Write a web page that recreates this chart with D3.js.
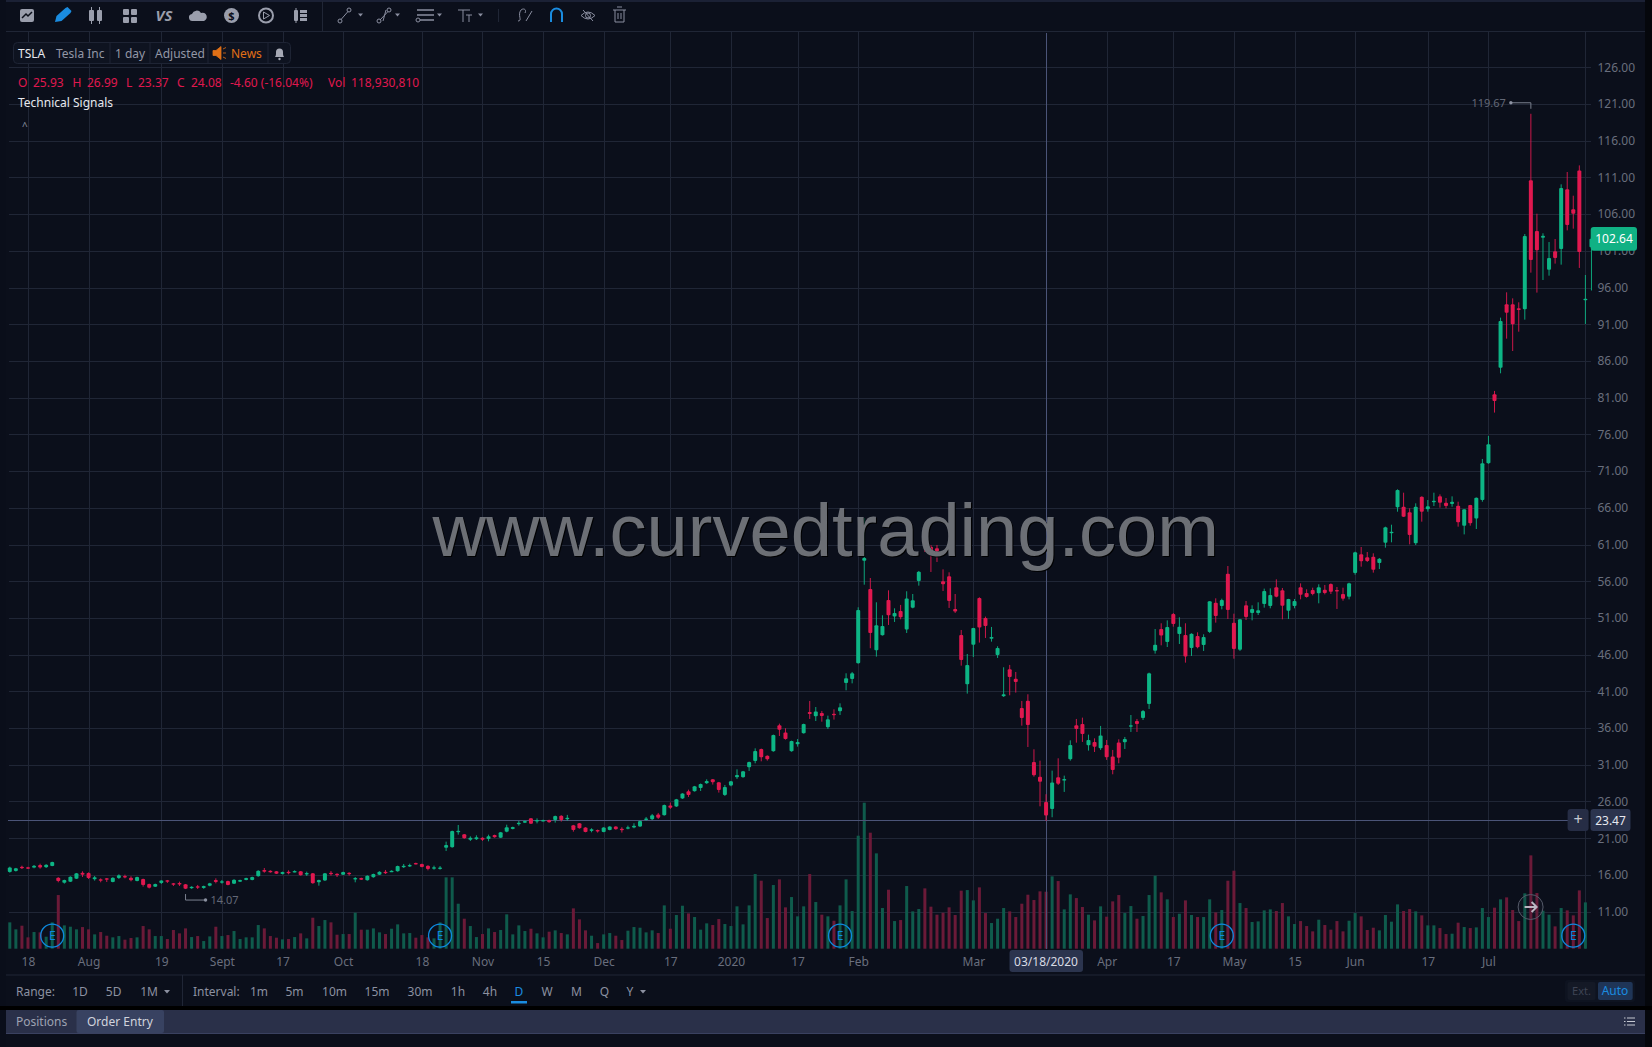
<!DOCTYPE html>
<html>
<head>
<meta charset="utf-8">
<title>TSLA</title>
<script src="https://cdn.jsdelivr.net/npm/d3@7"></script>
<style>
body { margin: 0; background: #0a0e1a; overflow: hidden; }
svg { display: block; font-family: "Noto Sans", sans-serif; }
.grid line { stroke: #202636; stroke-width: 1; shape-rendering: crispEdges; }
.grid path { display: none; }
.axis path, .axis line { display: none; }
.axis text { fill: #696e7d; font-size: 12px; font-family: "Noto Sans", sans-serif; }
.txt { fill: #8c91a1; font-size: 12px; }
</style>
</head>
<body>
<svg width="1652" height="1047"></svg>
<script>
const opens = [
  16.40,16.53,17.12,17.03,16.99,17.35,17.03,17.21,15.62,14.94,
  15.08,15.49,16.30,16.26,15.40,15.40,15.53,15.03,15.58,15.85,
  15.62,15.17,15.44,14.76,14.40,14.90,15.26,14.85,14.90,14.72,
  14.22,14.44,14.22,14.53,15.31,14.99,15.17,14.81,15.08,15.31,
  15.31,15.81,16.67,16.58,16.49,16.12,16.44,16.40,16.49,16.12,
  16.21,14.99,15.22,16.30,16.17,16.03,16.30,15.49,15.58,15.26,
  15.67,16.03,16.44,16.44,16.49,17.12,17.21,17.62,17.49,17.26,
  16.94,16.89,19.71,19.75,21.80,21.52,20.80,20.84,21.07,20.89,
  21.43,21.07,21.89,22.25,22.93,23.11,23.70,23.29,23.34,23.48,
  23.48,24.07,23.67,22.76,23.03,22.44,21.99,22.12,21.85,22.12,
  22.58,22.30,22.30,22.44,22.58,23.48,23.58,24.21,24.12,25.44,
  25.30,26.39,27.39,27.39,27.84,28.48,29.02,28.61,26.89,28.16,
  29.29,29.29,30.66,31.52,33.15,32.24,32.83,36.37,35.38,32.83,
  33.79,35.29,38.19,37.60,38.05,36.10,37.96,38.28,42.14,42.68,
  44.82,58.80,54.94,46.59,48.64,53.45,51.18,51.95,49.41,52.40,
  56.03,61.62,60.71,60.48,55.99,56.67,52.22,48.68,41.96,47.36,
  53.72,50.99,48.18,45.96,40.33,44.00,42.73,38.73,39.73,31.38,
  29.38,25.93,24.98,29.29,28.84,31.75,36.37,36.56,33.65,34.11,
  33.24,33.70,32.11,34.02,34.06,36.29,36.97,37.38,39.28,46.54,
  49.49,47.72,51.54,48.81,48.68,46.91,48.54,47.32,49.09,53.08,
  52.63,57.03,50.36,46.68,52.72,51.67,51.67,52.90,52.63,55.17,
  54.76,51.99,52.63,55.17,54.40,54.80,54.35,54.85,55.62,54.80,
  54.26,53.90,57.12,59.66,59.25,59.34,58.48,61.25,62.66,66.06,
  66.15,65.38,61.16,67.52,65.79,66.79,67.56,66.70,66.52,66.29,
  63.57,66.38,64.56,67.06,72.07,81.46,85.09,93.72,93.72,93.17,
  93.04,110.60,103.70,102.80,98.44,100.93,101.25,109.38,106.65,111.96,94.40,101.50
];
const highs = [
  17.12,16.95,17.26,17.10,17.35,17.53,17.45,17.80,15.68,15.35,
  15.80,16.26,16.49,16.35,15.85,15.53,15.58,15.67,16.08,16.03,
  15.81,15.76,15.49,14.81,14.81,15.26,15.31,14.90,15.08,14.76,
  14.45,14.63,14.54,14.92,15.53,15.31,15.22,15.40,15.35,15.62,
  15.76,16.62,16.94,16.62,16.53,16.44,16.62,16.62,16.53,16.44,
  16.26,15.35,16.26,16.53,16.21,16.44,16.35,15.71,15.62,15.94,
  16.17,16.49,16.67,16.62,17.26,17.49,17.53,17.67,17.53,17.30,
  17.26,17.21,20.53,22.03,22.80,21.57,21.25,21.39,21.12,21.48,
  21.48,21.85,22.84,22.57,23.34,23.40,23.75,23.70,23.52,23.52,
  24.08,24.12,24.17,22.81,23.07,22.49,22.35,22.17,22.49,22.62,
  22.62,22.49,22.71,23.03,23.40,23.89,24.30,24.44,25.58,25.85,
  26.35,27.12,27.61,28.12,28.44,29.02,29.06,28.66,28.25,28.80,
  30.38,30.16,31.43,33.24,33.20,32.28,35.11,36.60,35.97,34.28,
  34.51,36.60,39.69,38.87,38.33,37.69,38.55,39.37,43.46,43.64,
  52.45,64.60,56.44,53.13,51.36,54.76,52.31,52.77,54.63,54.26,
  57.40,63.07,60.94,60.94,57.62,57.21,54.26,49.36,46.09,49.65,
  53.81,51.18,49.77,47.14,44.28,44.60,43.64,39.69,40.60,33.11,
  31.56,26.99,30.20,31.88,29.52,34.33,37.24,37.42,35.10,34.60,
  36.29,34.38,33.02,34.47,34.79,37.78,37.24,38.46,43.55,49.49,
  50.27,50.67,51.67,51.08,50.27,48.90,49.04,48.77,53.28,53.67,
  53.62,58.07,51.58,50.84,53.31,52.72,53.13,54.99,55.03,56.26,
  55.08,53.60,53.58,55.71,54.90,55.12,55.58,55.49,55.71,55.21,
  55.12,55.80,60.02,60.66,59.98,59.80,59.16,63.43,63.70,68.52,
  68.06,65.93,66.61,67.56,67.06,68.06,67.83,67.33,67.56,66.83,
  65.80,66.40,67.40,72.65,75.79,81.92,91.90,95.35,94.53,93.99,
  103.29,119.67,106.06,103.39,102.20,102.61,110.06,111.74,108.51,112.64,97.71,102.90
];
const lows = [
  16.30,16.45,16.80,16.80,16.90,16.85,16.95,17.18,14.99,14.81,
  15.03,15.45,15.71,15.44,15.22,14.99,15.03,14.99,15.44,15.53,
  15.12,15.12,14.40,14.15,14.35,14.76,14.90,14.49,14.49,14.07,
  14.10,14.08,14.10,14.45,14.85,14.81,14.58,14.76,15.03,15.26,
  15.26,15.76,16.30,16.30,16.12,16.06,16.08,16.35,15.90,15.85,
  14.80,14.53,15.17,15.90,15.71,15.98,15.90,14.99,15.31,15.22,
  15.62,15.98,16.12,16.40,16.44,16.94,17.08,17.44,17.03,16.62,
  16.71,16.71,19.26,19.71,21.48,20.93,20.62,20.75,20.62,20.57,
  21.07,21.03,21.80,22.20,22.70,23.06,22.93,23.02,23.30,23.11,
  23.12,23.26,23.39,21.89,22.30,21.80,21.80,21.76,21.80,22.07,
  22.17,21.76,22.21,22.35,22.53,23.39,23.48,23.62,24.08,24.98,
  25.26,26.35,26.62,27.35,27.43,28.39,28.30,27.21,26.75,28.07,
  29.07,29.25,30.16,31.20,31.47,31.56,32.78,34.92,34.42,32.78,
  33.47,35.25,37.24,36.96,36.87,35.88,37.15,37.78,41.14,42.09,
  44.78,55.53,46.87,45.73,48.60,50.04,50.45,50.81,48.95,52.31,
  55.40,59.98,57.26,58.62,54.67,52.36,51.68,44.50,40.69,45.68,
  47.64,48.27,47.77,45.55,40.24,40.46,40.83,36.33,33.42,29.38,
  25.34,23.37,23.85,28.25,27.30,31.56,34.01,34.11,32.93,32.74,
  33.02,31.66,29.70,31.20,33.15,35.47,35.47,37.10,38.60,46.14,
  47.27,47.04,49.81,47.45,44.91,45.82,46.86,46.50,48.95,50.36,
  52.17,50.86,45.45,46.50,50.72,50.67,51.40,52.40,52.31,53.81,
  50.81,50.86,52.31,53.53,53.76,54.08,52.99,54.21,54.26,52.22,
  53.35,53.53,56.89,57.98,58.62,57.17,57.66,60.57,61.30,65.47,
  64.75,61.02,60.93,64.11,65.47,66.24,66.02,65.93,66.15,63.43,
  62.38,63.57,63.11,66.83,72.00,78.97,84.32,89.04,87.36,89.99,
  91.63,98.03,95.31,97.03,97.62,99.26,99.12,103.79,104.02,98.67,91.04,95.60
];
const closes = [
  16.99,16.89,16.99,16.85,17.26,16.99,17.39,17.76,15.17,15.31,
  15.76,16.21,16.03,15.58,15.67,15.22,15.40,15.62,15.94,15.67,
  15.26,15.71,14.63,14.26,14.76,15.22,15.08,14.67,14.72,14.10,
  14.40,14.26,14.49,14.85,15.03,15.12,14.63,15.35,15.31,15.58,
  15.71,16.58,16.44,16.35,16.17,16.40,16.26,16.53,15.94,16.26,
  14.85,15.31,16.21,16.12,16.03,16.40,16.17,15.58,15.35,15.90,
  16.12,16.44,16.30,16.58,17.21,17.26,17.35,17.49,17.08,16.80,
  17.03,16.99,20.07,21.98,22.02,20.98,21.07,21.12,20.80,21.25,
  21.12,21.80,22.48,22.52,23.11,23.34,22.98,23.48,23.48,23.16,
  24.03,23.48,23.80,22.12,22.35,21.85,22.21,21.94,22.44,22.58,
  22.21,22.08,22.49,22.71,23.35,23.67,24.12,23.80,25.53,25.16,
  26.30,27.07,26.89,28.07,28.39,28.79,28.61,27.57,27.98,28.75,
  29.61,30.11,31.38,32.88,32.02,31.75,35.06,35.78,34.51,34.24,
  34.11,36.56,37.92,38.24,37.65,37.19,37.78,38.83,42.77,43.46,
  52.08,59.17,48.95,49.99,49.91,51.36,51.68,51.09,53.63,53.40,
  57.30,61.07,59.89,60.07,55.58,53.31,51.86,45.28,44.60,49.63,
  49.68,49.91,48.41,46.91,40.60,42.96,42.28,37.37,36.42,29.57,
  28.70,24.08,28.57,28.43,29.07,33.70,35.88,35.19,34.38,33.47,
  34.97,32.02,30.29,31.97,34.52,36.38,36.56,38.33,43.46,47.36,
  48.59,49.77,50.17,49.81,45.73,48.86,47.00,48.40,53.26,51.26,
  53.44,52.08,46.77,50.81,51.13,52.22,52.04,54.67,54.12,53.90,
  52.67,53.58,53.31,54.17,53.85,54.26,55.17,54.40,54.58,54.67,
  53.62,55.71,59.93,58.71,58.75,57.57,59.07,63.34,62.75,68.42,
  64.79,62.29,66.15,65.47,66.20,66.97,66.70,66.24,66.83,64.02,
  65.79,63.88,67.38,72.06,74.65,80.55,91.45,92.58,91.00,92.95,
  103.02,99.75,101.07,103.07,100.03,100.03,109.56,104.52,106.06,100.84,94.49,102.64
];
// volume in millions of shares, the last (forming) bar has none
const volumes = [
  55.0,40.4,48.0,23.7,34.8,34.1,25.0,55.0,112.0,48.7,
  45.9,40.4,45.2,40.4,29.9,34.8,27.1,23.7,26.4,18.8,
  22.3,23.7,47.3,40.4,26.4,26.4,20.2,39.0,32.0,42.4,
  24.3,26.4,16.0,25.7,45.9,26.4,28.5,36.9,20.2,23.7,
  23.7,49.4,42.4,26.4,23.0,19.5,20.2,24.3,32.0,21.6,
  64.7,47.3,59.8,55.0,29.2,30.6,30.6,75.1,39.7,39.7,
  42.4,34.1,30.6,41.7,50.8,32.0,32.7,23.0,28.5,23.7,
  21.6,55.0,148.9,148.9,93.9,62.6,47.3,24.3,30.6,42.4,
  34.8,39.0,71.7,29.9,48.7,36.9,41.7,32.0,23.7,35.5,
  38.3,32.7,29.9,84.2,61.2,38.3,27.1,11.8,29.9,32.7,
  27.1,18.1,37.6,45.2,43.8,34.1,38.3,32.7,90.4,41.7,
  70.3,89.7,73.7,66.1,39.7,52.9,49.4,61.9,51.5,47.3,
  88.4,50.8,90.4,155.8,141.9,64.0,132.9,144.7,86.3,107.8,
  67.5,88.4,155.8,97.4,71.0,67.5,58.4,90.4,144.7,78.6,
  235.8,304.7,242.1,199.0,84.9,123.1,57.7,59.8,130.8,77.9,
  82.8,125.9,87.7,71.0,75.1,86.3,70.3,121.1,122.4,100.9,
  128.0,74.4,53.6,62.6,84.9,77.9,66.1,93.9,112.7,101.6,
  119.7,118.93,151.0,141.2,82.1,113.4,105.7,87.0,71.0,59.1,
  88.4,66.8,98.8,112.0,74.4,89.0,62.6,68.2,112.0,152.4,
  117.6,103.0,66.1,73.0,100.9,70.3,66.1,66.1,103.0,75.8,
  80.7,141.9,162.8,95.3,84.9,55.7,57.0,80.0,82.1,78.6,
  95.3,67.5,51.5,57.7,47.3,36.2,60.5,49.4,39.7,57.7,
  36.2,58.4,74.4,67.5,39.0,43.8,38.3,70.3,56.4,92.5,
  78.6,82.8,77.9,69.6,48.7,48.7,43.1,30.6,31.3,54.3,
  45.2,43.1,44.5,84.9,66.1,85.6,103.0,107.1,80.7,57.7,
  115.5,194.8,116.2,79.3,71.0,46.6,84.9,80.0,69.6,121.7,96.7,0
];
const priceTicks = [11,16,21,26,31,36,41,46,51,56,61,66,71,76,81,86,91,96,101,106,111,116,121,126];
const dateLabels = ['18','Aug','19','Sept','17','Oct','18','Nov','15','Dec','17','2020','17','Feb','Mar','Apr','17','May','15','Jun','17','Jul'];
const dateBars = [3,13,25,35,45,55,68,78,88,98,109,119,130,140,159,181,192,202,212,222,234,244];
const extraGridBars = [260];
const earningsBars = [7,71,137,200,258];
const selectedBar = 171;
const selectedDate = '03/18/2020';
const crossPrice = 23.47;
const lastPrice = 102.64;
const highestBar = 251;
const lowestBar = 29;

const rangeItems = ['1D','5D','1M'];
const intervalItems = ['1m','5m','10m','15m','30m','1h','4h','D','W','M','Q','Y'];

const UP = '#0db585', DOWN = '#e0184f', UP_VOL = '#0f5b4c', DOWN_VOL = '#6b1a38';

const svg = d3.select('svg');
const x = d3.scaleLinear().domain([0, 260]).range([9.8, 1585.4]);
const y = d3.scaleLinear().domain([11, 126]).range([911.6, 67.3]);
const v = d3.scaleLinear().domain([0, 304.7]).range([948.7, 802.7]);

const bars = opens.map((o, i) => ({ i, o, h: highs[i], l: lows[i], c: closes[i], vol: volumes[i], up: closes[i] >= o }));

// backgrounds
svg.append('rect').attr('x', 6).attr('width', 1639).attr('height', 1047).attr('fill', '#0b0f1b');
svg.append('rect').attr('x', 1645).attr('width', 7).attr('height', 1047).attr('fill', '#05070c');

// grid, made with the axes
const plot = svg.append('g');
plot.append('g').attr('class', 'grid').attr('transform', 'translate(1590.5,0)')
  .call(d3.axisLeft(y).tickValues(priceTicks).tickSize(1582).tickFormat(''));
plot.append('g').attr('class', 'grid').attr('transform', 'translate(0,948.7)')
  .call(d3.axisTop(x).tickValues(dateBars.concat(extraGridBars)).tickSize(917).tickFormat(''));

// volume
plot.selectAll('.vol').data(bars.filter(d => d.vol > 0)).enter().append('rect')
  .attr('class', 'vol')
  .attr('x', d => x(d.i) - 1.5)
  .attr('y', d => v(d.vol))
  .attr('width', 3)
  .attr('height', d => v(0) - v(d.vol))
  .attr('fill', d => d.up ? UP_VOL : DOWN_VOL);

// crosshair
plot.append('line').attr('x1', x(selectedBar)).attr('x2', x(selectedBar)).attr('y1', 33).attr('y2', 948.7)
  .attr('stroke', '#4b5478').attr('stroke-width', 1).style('shape-rendering', 'crispEdges');
plot.append('line').attr('x1', 8).attr('x2', 1568).attr('y1', y(crossPrice)).attr('y2', y(crossPrice))
  .attr('stroke', '#4b5478').attr('stroke-width', 1).style('shape-rendering', 'crispEdges');

// candles
plot.selectAll('.wick').data(bars).enter().append('line')
  .attr('class', 'wick')
  .attr('x1', d => x(d.i)).attr('x2', d => x(d.i))
  .attr('y1', d => y(d.h)).attr('y2', d => y(d.l))
  .attr('stroke', d => d.up ? UP : DOWN)
  .attr('stroke-opacity', 0.9)
  .attr('stroke-width', 1);
plot.selectAll('.body').data(bars).enter().append('rect')
  .attr('class', 'body')
  .attr('x', d => x(d.i) - 2)
  .attr('y', d => y(Math.max(d.o, d.c)))
  .attr('width', 4)
  .attr('height', d => Math.max(1.5, Math.abs(y(d.o) - y(d.c))))
  .attr('rx', 1)
  .attr('fill', d => d.up ? UP : DOWN);

// high and low flags
const flag = svg.append('g').attr('fill', 'none').attr('stroke', '#7b808f');
flag.append('path').attr('d', `M${x(highestBar)},${y(bars[highestBar].h) - 5}V${y(bars[highestBar].h) - 11}H${x(highestBar) - 20}`);
flag.append('path').attr('d', `M${x(lowestBar)},${y(bars[lowestBar].l) + 5}V${y(bars[lowestBar].l) + 11}H${x(lowestBar) + 20}`);
svg.append('circle').attr('cx', x(highestBar) - 20).attr('cy', y(bars[highestBar].h) - 11).attr('r', 1.7).attr('fill', '#8c91a1');
svg.append('circle').attr('cx', x(lowestBar) + 20).attr('cy', y(bars[lowestBar].l) + 11).attr('r', 1.7).attr('fill', '#8c91a1');
svg.append('text').attr('class', 'txt').attr('x', x(highestBar) - 25).attr('y', y(bars[highestBar].h) - 7)
  .attr('text-anchor', 'end').style('font-size', '11px').style('fill', '#636877').text(bars[highestBar].h.toFixed(2));
svg.append('text').attr('class', 'txt').attr('x', x(lowestBar) + 25).attr('y', y(bars[lowestBar].l) + 15)
  .style('font-size', '11px').style('fill', '#636877').text(bars[lowestBar].l.toFixed(2));

// earnings markers
const earn = svg.selectAll('.earn').data(earningsBars).enter().append('g').attr('class', 'earn')
  .attr('transform', d => `translate(${x(d)},935.7)`);
earn.append('circle').attr('r', 11.5).attr('fill', 'none').attr('stroke', '#0d8ae0').attr('stroke-width', 1.3);
earn.append('text').attr('text-anchor', 'middle').attr('y', 4.5).attr('fill', '#0d8ae0').style('font-size', '12px').text('E');

// replay arrow
const arrow = svg.append('g').attr('transform', 'translate(1530.6,907)');
arrow.append('circle').attr('r', 12.5).attr('fill', '#2b3040').attr('fill-opacity', 0.15).attr('stroke', '#565b6a');
arrow.append('path').attr('d', 'M-6,0H6M1,-5L6,0L1,5').attr('fill', 'none').attr('stroke', '#bdb6c2').attr('stroke-width', 2);

// watermark
svg.append('text').attr('x', 432.5).attr('y', 556)
  .attr('font-family', '"Liberation Sans", Arial, sans-serif').attr('font-size', 74.1)
  .attr('fill', '#74777e').attr('fill-opacity', 0.93)
  .style('filter', 'drop-shadow(1px 1px 0 #000)')
  .text('www.curvedtrading.com');

// axes
svg.append('g').attr('class', 'axis').attr('transform', 'translate(1584.5,0)')
  .call(d3.axisRight(y).tickValues(priceTicks).tickSize(10).tickFormat(d => d.toFixed(2)));
svg.append('g').attr('class', 'axis').attr('transform', 'translate(0,954)')
  .call(d3.axisBottom(x).tickValues(dateBars).tickSize(0).tickPadding(3).tickFormat((d, i) => dateLabels[i]));

function box(x0, y0, w, h, fill, rx) {
  return svg.append('rect').attr('x', x0).attr('y', y0).attr('width', w).attr('height', h).attr('fill', fill).attr('rx', rx || 0);
}
function label(x0, y0, s, fill, anchor, size) {
  return svg.append('text').attr('x', x0).attr('y', y0).attr('fill', fill).attr('text-anchor', anchor || 'start')
    .style('font-size', (size || 12) + 'px').text(s);
}

// price and date flags
box(1590.7, 227, 46.3, 23.7, '#10b184', 3);
label(1614, 243, lastPrice.toFixed(2), '#ffffff', 'middle');
box(1567.6, 809, 21, 22, '#262d45', 3);
label(1578, 825, '+', '#c5c8d2', 'middle', 16);
box(1590.5, 809, 40, 22, '#2b344e', 3);
label(1610.5, 825, crossPrice.toFixed(2), '#e6e8ee', 'middle');
box(1009.5, 950, 73.5, 22, '#2b344e', 3);
label(1046, 966, selectedDate, '#d8dbe4', 'middle');

// toolbar
box(6, 0, 1639, 31, '#0b0f1b');
svg.append('line').attr('x1', 6).attr('x2', 1645).attr('y1', 1).attr('y2', 1).attr('stroke', '#2d3550');
svg.append('line').attr('x1', 6).attr('x2', 1645).attr('y1', 31.5).attr('y2', 31.5).attr('stroke', '#202636');
svg.append('line').attr('x1', 322.5).attr('x2', 322.5).attr('y1', 1).attr('y2', 31).attr('stroke', '#202636');
svg.append('line').attr('x1', 498.5).attr('x2', 498.5).attr('y1', 9).attr('y2', 22).attr('stroke', '#202636');
const ICON = '#9a9eac', BLUE = '#1a8ce0';
box(20, 9, 14, 13, ICON, 2);
svg.append('path').attr('d', 'M22,18l4,-4l2,2l4,-4').attr('fill', 'none').attr('stroke', '#0b0f1b').attr('stroke-width', 1.5);
svg.append('path').attr('d', 'M55,22l1.5,-6l9,-8l2,-1l4,4l-1,2l-9,8z').attr('fill', BLUE);
box(89, 10, 5, 11, ICON, 1); box(97, 10, 5, 11, ICON, 1);
svg.append('path').attr('d', 'M91.5,7V24M99.5,7V24').attr('stroke', ICON).attr('fill', 'none');
box(123, 9, 6, 6, ICON, 1); box(131, 9, 6, 6, ICON, 1); box(123, 17, 6, 6, ICON, 1); box(131, 17, 6, 6, ICON, 1);
label(164, 21, 'VS', ICON, 'middle', 15).style('font-weight', 700).style('font-style', 'italic');
svg.append('path').attr('d', 'M193,21a3.5,3.5 0 0 1 -1,-7a5,5 0 0 1 9,-1a4,4 0 0 1 3,8z').attr('fill', ICON);
svg.append('circle').attr('cx', 231.5).attr('cy', 15.5).attr('r', 7.5).attr('fill', ICON);
label(231.5, 19.5, '$', '#0b0f1b', 'middle', 11).style('font-weight', 700);
svg.append('circle').attr('cx', 266).attr('cy', 15.5).attr('r', 7).attr('fill', 'none').attr('stroke', ICON).attr('stroke-width', 2);
svg.append('path').attr('d', 'M263.5,12l6,3.5l-6,3.5z').attr('fill', 'none').attr('stroke', ICON);
box(294, 10, 4, 11, ICON, 1); box(300, 10, 7, 3, ICON); box(300, 14, 7, 3, ICON); box(300, 18, 7, 3, ICON);
svg.append('path').attr('d', 'M296,8V23').attr('stroke', ICON).attr('fill', 'none');
const LINE = '#8a8ea0';
[358, 395, 437, 478].forEach(c => {
  svg.append('path').attr('d', `M${c},13.5h5l-2.5,3z`).attr('fill', LINE);
});
[[340, 21], [349, 10], [379, 21], [389, 10], [418, 20]].forEach(([a, b]) => {
  svg.append('circle').attr('cx', a).attr('cy', b).attr('r', 2).attr('fill', 'none').attr('stroke', LINE);
});
svg.append('path').attr('d', 'M341,19.5L348,11.5').attr('stroke', LINE).attr('fill', 'none');
svg.append('path').attr('d', 'M380,20L388,11.5M383,21L386,10').attr('stroke', LINE).attr('fill', 'none');
svg.append('path').attr('d', 'M417,10H434M417,15H434M420,20H434').attr('stroke', LINE).attr('stroke-width', 1.3).attr('fill', 'none');
svg.append('path').attr('d', 'M458,10H470M463,10V22M466,15H472M469,15V22').attr('stroke', LINE).attr('fill', 'none');
svg.append('path').attr('d', 'M518,21c5,0 -1,-6 3,-11c2,-2 6,-1 4,3M526,21l6,-10').attr('stroke', LINE).attr('fill', 'none');
svg.append('path').attr('d', 'M551,22V14a5,5 0 0 1 11,0V22').attr('stroke', BLUE).attr('stroke-width', 2).attr('fill', 'none');
svg.append('path').attr('d', 'M581,15.5q7,-7 14,0q-7,7 -14,0M583,10L593,21').attr('stroke', LINE).attr('fill', 'none');
svg.append('circle').attr('cx', 588).attr('cy', 15.5).attr('r', 2.5).attr('fill', 'none').attr('stroke', LINE);
svg.append('path').attr('d', 'M613,10H626M615,10V22H624V10M617,7H622M618,13V19M621,13V19').attr('stroke', LINE).attr('fill', 'none');

// legend
svg.append('rect').attr('x', 13.5).attr('y', 42.5).attr('width', 277).attr('height', 21).attr('rx', 4)
  .attr('fill', '#0e1320').attr('stroke', '#1e2434');
[110, 150, 208, 268].forEach(d => svg.append('line').attr('x1', d).attr('x2', d).attr('y1', 43).attr('y2', 63).attr('stroke', '#1e2434'));
label(18, 58, 'TSLA', '#e6e8ee');
label(56, 58, 'Tesla Inc', '#9397a6');
label(115, 58, '1 day', '#9397a6');
label(155, 58, 'Adjusted', '#9397a6');
svg.append('path').attr('d', 'M213,50.5h3l5,-4v13l-5,-4h-3zM223,49l3,-1.5M223,53h3M223,57l3,1.5').attr('fill', '#e07016').attr('stroke', '#e07016').attr('stroke-width', 0.8);
label(231, 58, 'News', '#e07016');
svg.append('path').attr('d', 'M275,57a5,5 0 0 0 1,-3v-2a3.5,3.5 0 0 1 7,0v2a5,5 0 0 0 1,3z').attr('fill', '#a6a9b5');
svg.append('circle').attr('cx', 279.5).attr('cy', 59).attr('r', 1.2).attr('fill', '#a6a9b5');

const RED = '#e0184f';
[['O', 18], ['25.93', 33], ['H', 72.5], ['26.99', 87], ['L', 126], ['23.37', 138], ['C', 177], ['24.08', 191],
 ['-4.60 (-16.04%)', 230], ['Vol', 328], ['118,930,810', 351]].forEach(([s, p]) => label(p, 87, s, RED));
label(18, 107, 'Technical Signals', '#e6e8ee');
label(22, 130, '^', '#8c91a1', 'start', 10);

// bottom row
svg.append('line').attr('x1', 6).attr('x2', 1645).attr('y1', 975).attr('y2', 975).attr('stroke', '#202636');
const rowY = 996;
const GREY = '#8c91a1';
label(16, rowY, 'Range:', GREY);
[80, 113.6, 149].forEach((p, i) => label(p, rowY, rangeItems[i], GREY, 'middle'));
svg.append('path').attr('d', `M164,${rowY - 6}h6l-3,3.5z`).attr('fill', GREY);
svg.append('line').attr('x1', 182.5).attr('x2', 182.5).attr('y1', 975).attr('y2', 1006).attr('stroke', '#202636');
label(193, rowY, 'Interval:', GREY);
[259, 294.5, 334.5, 377, 420, 458, 490, 519, 547, 576.5, 604.5, 630].forEach((p, i) =>
  label(p, rowY, intervalItems[i], intervalItems[i] === 'D' ? BLUE : GREY, 'middle'));
svg.append('path').attr('d', `M640,${rowY - 6}h6l-3,3.5z`).attr('fill', GREY);
box(511, 1001, 16, 2.5, BLUE);
box(1565, 980, 70, 22, '#0e1320', 3);
box(1567.6, 982, 28, 18, '#141926', 2);
label(1581.5, 995, 'Ext.', '#3f4454', 'middle', 11);
box(1598, 982, 34.7, 18, '#1f3557', 2);
label(1615, 995, 'Auto', BLUE, 'middle');

// tabs
box(0, 1006, 1652, 4, '#000000');
box(6, 1010, 1639, 23, '#2a3049');
box(76.5, 1010, 87.5, 23, '#384261', 2);
svg.append('line').attr('x1', 6).attr('x2', 1645).attr('y1', 1033.5).attr('y2', 1033.5).attr('stroke', '#3a4160');
label(16, 1026, 'Positions', '#9ea2b2');
label(87, 1026, 'Order Entry', '#d0d3dd');
svg.append('path').attr('d', 'M1627,1018h8M1627,1021.5h8M1627,1025h8M1624,1018h1.5M1624,1021.5h1.5M1624,1025h1.5').attr('stroke', '#c5c8d2').attr('fill', 'none');
</script>
</body>
</html>
